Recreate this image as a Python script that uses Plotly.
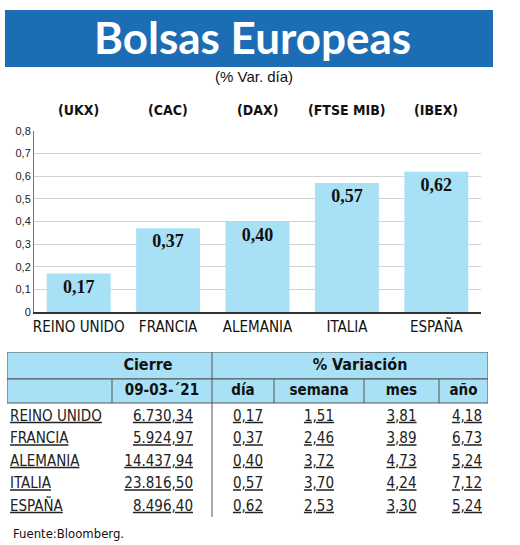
import plotly.graph_objects as go

# datos
countries = ["REINO UNIDO", "FRANCIA", "ALEMANIA", "ITALIA", "ESPAÑA"]
index_codes = ["(UKX)", "(CAC)", "(DAX)", "(FTSE MIB)", "(IBEX)"]
var_dia = [0.17, 0.37, 0.40, 0.57, 0.62]
cierre = [6730.34, 5924.97, 14437.94, 23816.50, 8496.40]
var_semana = [1.51, 2.46, 3.72, 3.70, 2.53]
var_mes = [3.81, 3.89, 4.73, 4.24, 3.30]
var_anio = [4.18, 6.73, 5.24, 7.12, 5.24]

y_ticks = [0, 0.1, 0.2, 0.3, 0.4, 0.5, 0.6, 0.7, 0.8]
y_tick_labels = ["0", "0,1", "0,2", "0,3", "0,4", "0,5", "0,6", "0,7", "0,8"]

table_header_top = ["Cierre", "% Variación"]
table_header = ["", "09-03-´21", "día", "semana", "mes", "año"]

W, H = 520, 545
NARROW = "DejaVu Sans Condensed, sans-serif"
BLUE = "#1d6db5"
LIGHT = "#a8e0f5"
BORDER = "#555"


def px(x):
    return x / W


def py(y):
    return 1 - y / H


def es(v):
    # formato español: 14.437,94
    s = f"{v:,.2f}"
    return s.replace(",", "X").replace(".", ",").replace("X", ".")


fig = go.Figure()

fig.add_trace(go.Bar(
    x=countries, y=var_dia,
    marker=dict(color=LIGHT, line=dict(width=0)),
    texttemplate="%{y:.2f}",
    textposition="inside", insidetextanchor="end", textangle=0,
    textfont=dict(family="Liberation Serif", size=18, color="#111", weight="bold"),
    width=0.715, hoverinfo="skip",
))

# ---- tabla (ejes x2/y2 en pixeles de la tabla) ----
col_w = [105, 100, 62, 90, 75, 49]
edges = [sum(col_w[:i]) for i in range(len(col_w) + 1)]
row_y = [65 + 22.5 * i for i in range(len(countries))]

columns = [
    countries,
    [es(v) for v in cierre],
    [es(v) for v in var_dia],
    [es(v) for v in var_semana],
    [es(v) for v in var_mes],
    [es(v) for v in var_anio],
]
# (alineación, separación) por columna
col_align = [("left", 3), ("right", 19), ("right", 11), ("center", 0),
             ("center", 0), ("right", 6)]

for c, vals in enumerate(columns):
    how, pad = col_align[c]
    if how == "left":
        xpos, tpos = edges[c] + pad, "middle right"
    elif how == "right":
        xpos, tpos = edges[c + 1] - pad, "middle left"
    else:
        xpos, tpos = (edges[c] + edges[c + 1]) / 2, "middle center"
    fig.add_trace(go.Scatter(
        x=[xpos] * len(vals), y=row_y, xaxis="x2", yaxis="y2",
        mode="text", text=["<u>" + v + "</u>" for v in vals],
        textposition=tpos, cliponaxis=False, hoverinfo="skip",
        textfont=dict(family=NARROW, size=15, color="#222"),
    ))

# cabecera segunda fila
fig.add_trace(go.Scatter(
    x=[(edges[i] + edges[i + 1]) / 2 for i in range(len(col_w))],
    y=[39] * len(col_w), xaxis="x2", yaxis="y2",
    mode="text", text=["<b>" + h + "</b>" for h in table_header],
    textposition="middle center", cliponaxis=False, hoverinfo="skip",
    textfont=dict(family=NARROW, size=15, color="#111"),
))
# cabecera primera fila (celdas agrupadas)
fig.add_trace(go.Scatter(
    x=[141, 353], y=[13.5, 13.5], xaxis="x2", yaxis="y2",
    mode="text", text=["<b>" + h + "</b>" for h in table_header_top],
    textposition="middle center", cliponaxis=False, hoverinfo="skip",
    textfont=dict(family=NARROW, size=16, color="#111"),
))

annotations = [
    dict(text="Bolsas Europeas", x=px(252), y=py(37),
         font=dict(family="Lato", size=44, color="white", weight="bold")),
    dict(text="(% Var. día)", x=px(254), y=py(77),
         font=dict(family="Liberation Sans", size=15, color="#111")),
    dict(text="Fuente:Bloomberg.", x=px(11), y=py(533), xanchor="left",
         font=dict(family=NARROW, size=13, color="#111")),
]
for a in annotations:
    a.update(xref="paper", yref="paper", yanchor="middle", showarrow=False)

for i, code in enumerate(index_codes):
    annotations.append(dict(
        text="<b>" + code + "</b>", x=countries[i], y=py(110), xref="x", yref="paper",
        yanchor="middle", showarrow=False,
        font=dict(family=NARROW, size=14, color="#111")))

tbl = dict(xref="x2", yref="y2")
shapes = [
    dict(type="rect", xref="paper", yref="paper", x0=px(5), x1=px(493),
         y0=py(67), y1=py(10), fillcolor=BLUE, line=dict(width=0), layer="below"),
    dict(type="rect", x0=0, x1=edges[-1], y0=0, y1=27, fillcolor=LIGHT,
         line=dict(color=BORDER, width=1), layer="below", **tbl),
    dict(type="rect", x0=0, x1=edges[-1], y0=27, y1=51, fillcolor=LIGHT,
         line=dict(color=BORDER, width=1), layer="below", **tbl),
    dict(type="line", x0=edges[2], x1=edges[2], y0=0, y1=165,
         line=dict(color=BORDER, width=1), **tbl),
]
for e in [edges[1], edges[3], edges[4], edges[5]]:
    shapes.append(dict(type="line", x0=e, x1=e, y0=27, y1=51,
                       line=dict(color=BORDER, width=1), **tbl))

fig.update_layout(
    width=W, height=H,
    margin=dict(l=0, r=0, t=0, b=0),
    paper_bgcolor="white", plot_bgcolor="white",
    separators=",.",
    showlegend=False,
    bargap=0.285,
    annotations=annotations,
    shapes=shapes,
    xaxis=dict(
        domain=[px(34), px(481)], range=[-0.5, 4.5],
        showline=True, linecolor="#333", linewidth=1.5, ticks="",
        tickfont=dict(family=NARROW, size=15, color="#111"),
        automargin=False, fixedrange=True,
    ),
    yaxis=dict(
        domain=[py(312), py(131)], range=[0, 0.8],
        tickvals=y_ticks, ticktext=y_tick_labels,
        showgrid=True, gridcolor="#d2d2d2", gridwidth=1,
        showline=True, linecolor="#777", linewidth=1, ticks="",
        zeroline=False, automargin=False,
        tickfont=dict(family="Liberation Sans", size=11, color="#222"),
        fixedrange=True,
    ),
    xaxis2=dict(domain=[px(7), px(488)], range=[0, edges[-1]], anchor="y2",
                visible=False, fixedrange=True),
    yaxis2=dict(domain=[py(520), py(352)], range=[168, 0], anchor="x2",
                visible=False, fixedrange=True),
)

fig.write_html("out.html", config={"displayModeBar": False},
               post_script="document.body.style.margin='0';")
